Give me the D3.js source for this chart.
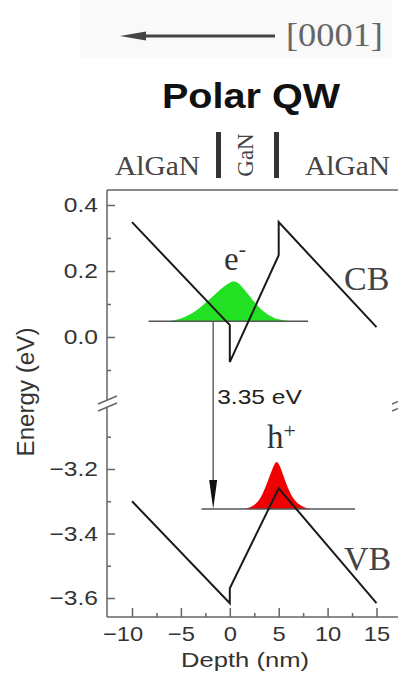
<!DOCTYPE html>
<html lang="en">
<head>
<meta charset="UTF-8">
<title>Polar QW</title>
<style>
    body { margin: 0; background: #fff; }
    text { font-family: "Liberation Sans", Arial, sans-serif; }
    .serif { font-family: "Liberation Serif", "Times New Roman", serif; }
</style>
</head>
<body>
<script src="https://d3js.org/d3.v7.min.js"></script>
<script>
    let w = 398, h = 675;

    // band edges: depth (nm) / energy (eV)
    const cbDepth = [-10, 0, 0, 5, 5, 15];
    const cbEnergy = [0.348, 0.036, -0.076, 0.248, 0.348, 0.03];
    const vbDepth = [-10, 0, 0, 5, 15];
    const vbEnergy = [-3.30, -3.616, -3.57, -3.26, -3.616];

    // electron / hole wavefunctions (drawn on their levels)
    const eDepth = [-6, -5, -4, -3, -2, -1, 0, 0.4, 1, 2, 3, 4, 5, 6];
    const eEnergy = [0.049, 0.055, 0.068, 0.09, 0.115, 0.145, 0.166, 0.17, 0.163, 0.125, 0.088, 0.064, 0.052, 0.049];
    const hDepth = [1.5, 2.5, 3.2, 3.8, 4.4, 4.8, 5.2, 5.8, 6.4, 7.2, 8.2];
    const hEnergy = [-3.324, -3.315, -3.29, -3.245, -3.195, -3.17, -3.195, -3.25, -3.29, -3.315, -3.324];

    const eLevel = 0.048, eLevelRange = [-8.3, 8.0];
    const hLevel = -3.324, hLevelRange = [-2.9, 12.8];
    const transitionDepth = -1.7;

    const xTicks = [-10, -5, 0, 5, 10, 15];
    const xMinor = [-7.5, -2.5, 2.5, 7.5, 12.5];
    const yTopTicks = [0.4, 0.2, 0.0];
    const yTopMinor = [0.3, 0.1, -0.1];
    const yBotTicks = [-3.2, -3.4, -3.6];
    const yBotMinor = [-3.1, -3.3, -3.5];

    // frame
    let fLeft = 107, fTop = 190, fBottom = 617, fRight = 401, brk = 403;

    let x = d3.scaleLinear().domain([-10, 15]).range([132, 376.5]);
    let yTop = d3.scaleLinear().domain([0.4, 0.0]).range([205, 337]);
    let yBot = d3.scaleLinear().domain([-3.2, -3.6]).range([469, 598]);
    let y = e => e > -1 ? yTop(e) : yBot(e);

    let svg = d3.select("body").append("svg")
        .attr("width", w)
        .attr("height", h);

    // the source figure is a little wider than its fonts
    function stretch(sel, k) {
        sel.each(function () {
            let len = this.getComputedTextLength();
            d3.select(this).attr("textLength", len * k).attr("lengthAdjust", "spacingAndGlyphs");
        });
    }

    // header
    svg.append("rect").attr("x", 80).attr("y", 0).attr("width", 312).attr("height", 58).attr("fill", "#f9f9f9");
    svg.append("line").attr("x1", 135).attr("y1", 36).attr("x2", 275).attr("y2", 36)
        .attr("stroke", "#444").attr("stroke-width", 3);
    svg.append("path").attr("d", "M120,36 L146,31.5 L146,40.5 Z").attr("fill", "#444");
    svg.append("text").attr("class", "serif").attr("x", 286).attr("y", 46)
        .style("font-size", "34px").attr("fill", "#666").text("[0001]").call(stretch, 1.07);

    svg.append("text").attr("x", 251).attr("y", 108).attr("text-anchor", "middle")
        .style("font-size", "35px").style("font-weight", "bold").attr("fill", "#111").text("Polar QW")
        .call(stretch, 1.13);

    svg.append("text").attr("class", "serif").attr("x", 115).attr("y", 175)
        .style("font-size", "27px").attr("fill", "#444").text("AlGaN").call(stretch, 1.09);
    svg.append("text").attr("class", "serif").attr("x", 305).attr("y", 175)
        .style("font-size", "27px").attr("fill", "#444").text("AlGaN").call(stretch, 1.09);
    svg.append("rect").attr("x", 216).attr("y", 132).attr("width", 5).attr("height", 46).attr("fill", "#333");
    svg.append("rect").attr("x", 274).attr("y", 132).attr("width", 5).attr("height", 46).attr("fill", "#333");
    svg.append("text").attr("class", "serif")
        .attr("transform", "translate(253,155) rotate(-90)")
        .attr("text-anchor", "middle")
        .style("font-size", "23px").attr("fill", "#444").text("GaN");

    // frame lines
    let frame = svg.append("g").attr("stroke", "#666").attr("stroke-width", 1.5);
    frame.append("line").attr("x1", fLeft).attr("y1", fTop).attr("x2", fRight).attr("y2", fTop);
    frame.append("line").attr("x1", fLeft).attr("y1", fTop).attr("x2", fLeft).attr("y2", fBottom);
    frame.append("line").attr("x1", fRight).attr("y1", fTop).attr("x2", fRight).attr("y2", fBottom);
    frame.append("line").attr("x1", fLeft).attr("y1", fBottom).attr("x2", fRight).attr("y2", fBottom);

    // axes
    function styleAxis(g) {
        g.select(".domain").remove();
        g.selectAll("line").attr("stroke", "#666").attr("stroke-width", 1.5);
        g.selectAll("text").attr("fill", "#333").style("font-size", "21px")
            .style("font-family", "Liberation Sans, Arial, sans-serif");
    }

    let fmt = d3.format(".1f");
    [[yTop, yTopTicks, yTopMinor], [yBot, yBotTicks, yBotMinor]].forEach(function (s) {
        svg.append("g").attr("transform", "translate(" + fLeft + ",0)")
            .call(d3.axisLeft(s[0]).tickValues(s[1]).tickSize(-8).tickPadding(9).tickFormat(fmt))
            .call(styleAxis)
            .selectAll("text").call(stretch, 1.17);
        svg.append("g").attr("transform", "translate(" + fLeft + ",0)")
            .call(d3.axisLeft(s[0]).tickValues(s[2]).tickSize(-4).tickFormat(""))
            .call(styleAxis);
    });

    let xa = svg.append("g").attr("transform", "translate(0," + fBottom + ")")
        .call(d3.axisBottom(x).tickValues(xTicks).tickSize(-9).tickPadding(9).tickFormat(d3.format("d")))
        .call(styleAxis);
    xa.selectAll("text").attr("dx", d => d <= -10 ? "-0.45em" : 0).call(stretch, 1.13);
    svg.append("g").attr("transform", "translate(0," + fBottom + ")")
        .call(d3.axisBottom(x).tickValues(xMinor).tickSize(-4).tickFormat(""))
        .call(styleAxis);

    // axis break marks
    [fLeft, fRight].forEach(function (sx) {
        svg.append("path").attr("d", "M" + (sx - 9) + "," + (brk + 1) + " L" + (sx + 10) + "," + (brk - 7) +
            " L" + (sx + 10) + "," + (brk) + " L" + (sx - 9) + "," + (brk + 8) + " Z").attr("fill", "#fff");
        svg.append("line").attr("x1", sx - 9).attr("y1", brk + 1).attr("x2", sx + 10).attr("y2", brk - 7)
            .attr("stroke", "#666").attr("stroke-width", 1.5);
        svg.append("line").attr("x1", sx - 9).attr("y1", brk + 8).attr("x2", sx + 10).attr("y2", brk)
            .attr("stroke", "#666").attr("stroke-width", 1.5);
    });

    svg.append("text").attr("transform", "translate(34,392) rotate(-90)").attr("text-anchor", "middle")
        .style("font-size", "23px").attr("fill", "#333").text("Energy (eV)")
        .attr("textLength", 129).attr("lengthAdjust", "spacingAndGlyphs");
    svg.append("text").attr("x", 245).attr("y", 667).attr("text-anchor", "middle")
        .style("font-size", "20px").attr("fill", "#333").text("Depth (nm)")
        .attr("textLength", 128).attr("lengthAdjust", "spacingAndGlyphs");

    // wavefunctions
    let area = d3.area().x(d => x(d[0])).y1(d => y(d[1])).curve(d3.curveBasis);
    svg.append("path").datum(d3.zip(eDepth, eEnergy))
        .attr("d", area.y0(y(eLevel))).attr("fill", "#22e022");
    svg.append("path").datum(d3.zip(hDepth, hEnergy))
        .attr("d", area.y0(y(hLevel))).attr("fill", "#f00000");

    // levels
    svg.append("line").attr("x1", x(eLevelRange[0])).attr("x2", x(eLevelRange[1]))
        .attr("y1", y(eLevel)).attr("y2", y(eLevel)).attr("stroke", "#555").attr("stroke-width", 1.5);
    svg.append("line").attr("x1", x(hLevelRange[0])).attr("x2", x(hLevelRange[1]))
        .attr("y1", y(hLevel)).attr("y2", y(hLevel)).attr("stroke", "#555").attr("stroke-width", 1.5);

    // band edges
    let line = d3.line().x(d => x(d[0])).y(d => y(d[1]));
    svg.append("path").datum(d3.zip(cbDepth, cbEnergy)).attr("d", line)
        .attr("fill", "none").attr("stroke", "#1a1a1a").attr("stroke-width", 2);
    svg.append("path").datum(d3.zip(vbDepth, vbEnergy)).attr("d", line)
        .attr("fill", "none").attr("stroke", "#1a1a1a").attr("stroke-width", 2);

    // transition arrow
    let ax = x(transitionDepth);
    svg.append("line").attr("x1", ax).attr("x2", ax).attr("y1", y(eLevel)).attr("y2", y(hLevel) - 20)
        .attr("stroke", "#666").attr("stroke-width", 1.5);
    svg.append("path").attr("d", "M" + (ax - 4) + "," + (y(hLevel) - 29) + " L" + (ax + 4) + "," + (y(hLevel) - 29) +
        " L" + ax + "," + y(hLevel) + " Z").attr("fill", "#111");
    svg.append("text").attr("x", ax + 4).attr("y", 404).style("font-size", "21px").attr("fill", "#222")
        .text("3.35 eV").call(stretch, 1.17);

    // labels
    let e = svg.append("text").attr("class", "serif").attr("x", 224).attr("y", 270)
        .style("font-size", "33px").attr("fill", "#333");
    e.append("tspan").text("e");
    e.append("tspan").attr("dy", -14).style("font-size", "22px").text("-");
    let hh = svg.append("text").attr("class", "serif").attr("x", 267).attr("y", 448)
        .style("font-size", "33px").attr("fill", "#333");
    hh.append("tspan").text("h");
    hh.append("tspan").attr("dy", -10).style("font-size", "22px").text("+");
    svg.append("text").attr("class", "serif").attr("x", 344).attr("y", 290)
        .style("font-size", "34px").attr("fill", "#444").text("CB");
    svg.append("text").attr("class", "serif").attr("x", 344).attr("y", 570)
        .style("font-size", "34px").attr("fill", "#444").text("VB");
</script>
</body>
</html>
